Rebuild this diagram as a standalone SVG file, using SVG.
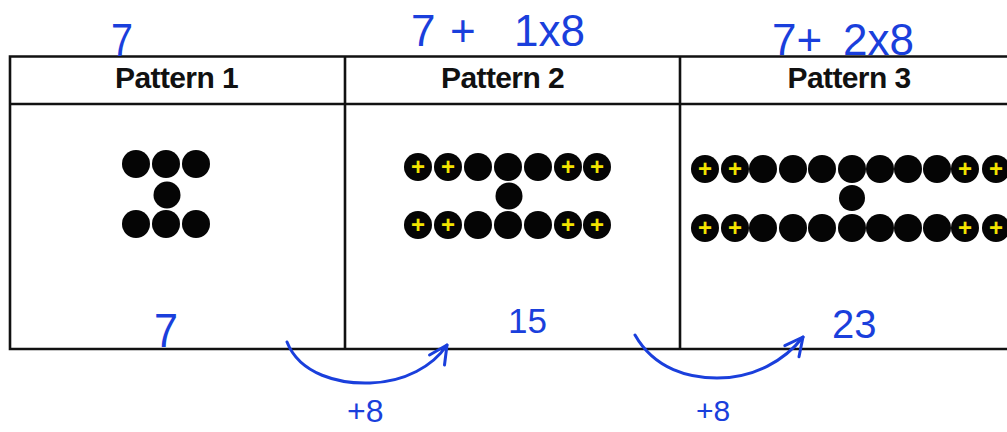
<svg xmlns="http://www.w3.org/2000/svg" width="1007" height="432" viewBox="0 0 1007 432">
<style>
.ln{stroke:#111;stroke-width:2.6;fill:none;stroke-linecap:square}
.hd{font-family:"Liberation Sans",Arial,sans-serif;font-weight:bold;font-size:30px;fill:#111;text-anchor:middle;letter-spacing:-0.6px}
.dot{fill:#050505}
.ym{font-family:"Liberation Sans",Arial,sans-serif;font-weight:bold;font-size:24px;fill:#f2e400;text-anchor:middle}
.hw{font-family:"Liberation Sans",Arial,sans-serif;fill:#1a3fdc}
.arr{stroke:#1a3fdc;stroke-width:3;fill:none;stroke-linecap:round;stroke-linejoin:round}
</style>
<defs>
<marker id="ah" markerUnits="userSpaceOnUse" markerWidth="30" markerHeight="30" refX="0" refY="0" viewBox="-22 -15 30 30" orient="auto" overflow="visible">
<path d="M-18,-9 L0,0 L-18,9" fill="none" stroke="#1a3fdc" stroke-width="3" stroke-linecap="round" stroke-linejoin="round"/>
</marker>
</defs>
<rect width="1007" height="432" fill="#fff"/>
<g id="table">
<path class="ln" d="M10,56.5 H1010 M10,104 H1010 M10,349 H1010 M10,56.5 V349 M345,56.5 V349 M680,56.5 V349"/>
</g>
<g id="pattern1">
<text class="hd" x="176.5" y="88">Pattern 1</text>
<g class="dot">
<circle cx="136" cy="164" r="14"/><circle cx="166" cy="164" r="14"/><circle cx="196" cy="164" r="14"/>
<circle cx="167" cy="195" r="13.5"/>
<circle cx="136" cy="224" r="14"/><circle cx="166" cy="224" r="14"/><circle cx="196" cy="224" r="14"/>
</g>
</g>
<g id="pattern2">
<text class="hd" x="502.5" y="88">Pattern 2</text>
<g class="dot">
<circle cx="418" cy="167" r="14"/><circle cx="448" cy="167" r="14"/><circle cx="478" cy="167" r="14"/><circle cx="508" cy="167" r="14"/><circle cx="538" cy="167" r="14"/><circle cx="568" cy="167" r="14"/><circle cx="597" cy="167" r="14"/>
<circle cx="509" cy="196" r="13.5"/>
<circle cx="418" cy="225" r="14"/><circle cx="448" cy="225" r="14"/><circle cx="478" cy="225" r="14"/><circle cx="508" cy="225" r="14"/><circle cx="538" cy="225" r="14"/><circle cx="568" cy="225" r="14"/><circle cx="597" cy="225" r="14"/>
</g>
<g class="ym">
<text x="418" y="175">+</text><text x="448" y="175">+</text><text x="568" y="175">+</text><text x="597" y="175">+</text>
<text x="418" y="233">+</text><text x="448" y="233">+</text><text x="568" y="233">+</text><text x="597" y="233">+</text>
</g>
</g>
<g id="pattern3">
<text class="hd" x="849" y="88">Pattern 3</text>
<g class="dot">
<circle cx="705" cy="169" r="14"/><circle cx="735" cy="169" r="14"/><circle cx="763" cy="169" r="14"/><circle cx="793" cy="169" r="14"/><circle cx="822" cy="169" r="14"/><circle cx="852" cy="169" r="14"/><circle cx="880" cy="169" r="14"/><circle cx="908" cy="169" r="14"/><circle cx="937" cy="169" r="14"/><circle cx="965" cy="169" r="14"/><circle cx="996" cy="169" r="14"/>
<circle cx="852" cy="198" r="13"/>
<circle cx="705" cy="228" r="14"/><circle cx="735" cy="228" r="14"/><circle cx="763" cy="228" r="14"/><circle cx="793" cy="228" r="14"/><circle cx="822" cy="228" r="14"/><circle cx="852" cy="228" r="14"/><circle cx="880" cy="228" r="14"/><circle cx="908" cy="228" r="14"/><circle cx="937" cy="228" r="14"/><circle cx="965" cy="228" r="14"/><circle cx="996" cy="228" r="14"/>
</g>
<g class="ym">
<text x="705" y="177">+</text><text x="735" y="177">+</text><text x="965" y="177">+</text><text x="996" y="177">+</text>
<text x="705" y="236">+</text><text x="735" y="236">+</text><text x="965" y="236">+</text><text x="996" y="236">+</text>
</g>
</g>
<g id="annotations" class="hw">
<text x="111" y="56" font-size="46" textLength="22" lengthAdjust="spacingAndGlyphs">7</text>
<text y="46" font-size="44"><tspan x="411">7 </tspan><tspan x="450">+ </tspan><tspan x="514">1x8</tspan></text>
<text y="55" font-size="44"><tspan x="772">7+ </tspan><tspan x="843">2x8</tspan></text>
<text x="154" y="347" font-size="48" textLength="24" lengthAdjust="spacingAndGlyphs">7</text>
<text x="508" y="333" font-size="35">15</text>
<text x="832" y="338" font-size="40">23</text>
<text x="347" y="422" font-size="32">+8</text>
<text x="696" y="421" font-size="30">+8</text>
</g>
<g id="connectors">
<path class="arr" d="M287,342 C300,375 340,384 370,383 C405,382 433,366 447,345" marker-end="url(#ah)"/>
<path class="arr" d="M635,335 C655,370 690,378 717,378 C755,378 785,360 803,337" marker-end="url(#ah)"/>
</g>
</svg>
